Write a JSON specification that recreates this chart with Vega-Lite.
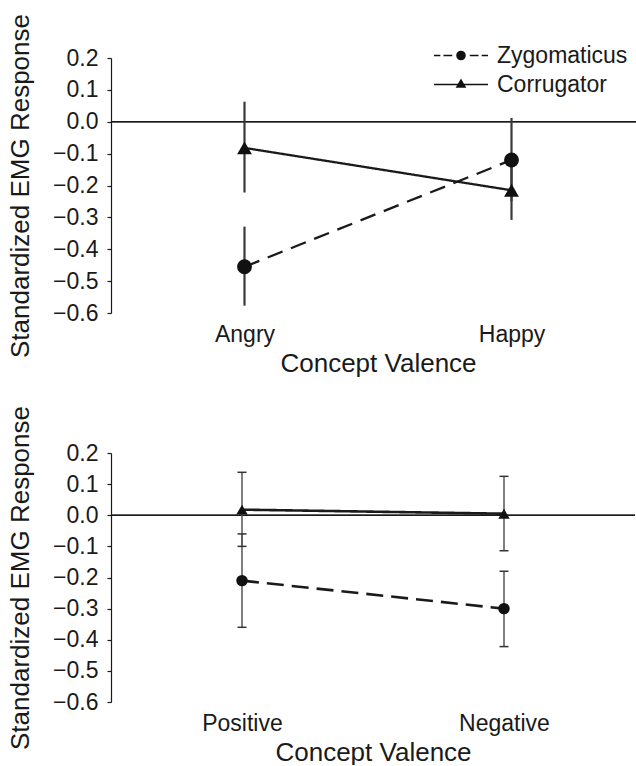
{
  "$schema": "https://vega.github.io/schema/vega-lite/v6.json",
  "background": "white",
  "padding": {"left": 7, "top": 13, "right": 0, "bottom": 0},
  "spacing": 29,
  "config": {
    "font": "Liberation Sans",
    "view": {"stroke": null},
    "axis": {
      "labelFont": "Liberation Sans", "titleFont": "Liberation Sans",
      "labelColor": "#1a1a1a", "titleColor": "#1a1a1a",
      "grid": false, "titleFontWeight": "normal",
      "labelFontSize": 23, "titleFontSize": 26
    },
    "axisY": {
      "domainColor": "#1a1a1a", "tickColor": "#1a1a1a", "tickSize": 4,
      "labelPadding": 9, "domainWidth": 1.2, "tickWidth": 1.2, "titlePadding": 19,
      "labelOverlap": false
    },
    "axisX": {
      "domain": false, "ticks": false, "labelAngle": 0, "labelPadding": 10, "titlePadding": 4
    }
  },
  "datasets": {
    "emg1": [
      {"Valence": "Angry", "Muscle": "Zygomaticus", "mean": -0.455, "lo": -0.577, "hi": -0.329},
      {"Valence": "Happy", "Muscle": "Zygomaticus", "mean": -0.12, "lo": -0.25, "hi": 0.012},
      {"Valence": "Angry", "Muscle": "Corrugator", "mean": -0.082, "lo": -0.222, "hi": 0.063},
      {"Valence": "Happy", "Muscle": "Corrugator", "mean": -0.215, "lo": -0.308, "hi": -0.12}
    ],
    "emg2": [
      {"Valence": "Positive", "Muscle": "Zygomaticus", "mean": -0.21, "lo": -0.36, "hi": -0.06},
      {"Valence": "Negative", "Muscle": "Zygomaticus", "mean": -0.3, "lo": -0.422, "hi": -0.18},
      {"Valence": "Positive", "Muscle": "Corrugator", "mean": 0.018, "lo": -0.1, "hi": 0.138},
      {"Valence": "Negative", "Muscle": "Corrugator", "mean": 0.005, "lo": -0.114, "hi": 0.125}
    ]
  },
  "vconcat": [
    {
      "width": 534,
      "height": 255,
      "data": {"name": "emg1"},
      "layer": [
        {
          "mark": {"type": "rule", "color": "#1a1a1a", "strokeWidth": 1.2},
          "encoding": {
            "y": {"datum": 0, "type": "quantitative", "scale": {"domain": [-0.6, 0.2], "nice": false, "zero": false},
                  "axis": {"values": [-0.6, -0.5, -0.4, -0.3, -0.2, -0.1, 0, 0.1, 0.2], "format": ".1f"},
                  "title": "Standardized EMG Response"}
          }
        },
        {
          "mark": {"type": "rule", "color": "#3a3a3a", "strokeWidth": 2.2},
          "encoding": {
            "x": {"field": "Valence", "type": "nominal", "sort": ["Angry", "Happy"], "scale": {"type": "point", "padding": 0.5}, "title": "Concept Valence"},
            "y": {"field": "lo", "type": "quantitative", "scale": {"domain": [-0.6, 0.2], "nice": false, "zero": false},
                  "axis": {"values": [-0.6, -0.5, -0.4, -0.3, -0.2, -0.1, 0, 0.1, 0.2], "format": ".1f"},
                  "title": "Standardized EMG Response"},
            "y2": {"field": "hi"}
          }
        },
        {
          "mark": {"type": "line", "color": "#1a1a1a", "strokeWidth": 2.3},
          "encoding": {
            "x": {"field": "Valence", "type": "nominal", "sort": ["Angry", "Happy"], "title": "Concept Valence"},
            "y": {"field": "mean", "type": "quantitative", "scale": {"domain": [-0.6, 0.2], "nice": false, "zero": false},
                  "axis": {"values": [-0.6, -0.5, -0.4, -0.3, -0.2, -0.1, 0, 0.1, 0.2], "format": ".1f"},
                  "title": "Standardized EMG Response"},
            "detail": {"field": "Muscle"},
            "strokeDash": {"condition": {"test": "datum.Muscle === 'Zygomaticus'", "value": [16, 9]}, "value": [1, 0]}
          }
        },
        {
          "mark": {"type": "point", "filled": true, "color": "#111111", "opacity": 1, "size": 220},
          "encoding": {
            "x": {"field": "Valence", "type": "nominal", "sort": ["Angry", "Happy"], "title": "Concept Valence"},
            "y": {"field": "mean", "type": "quantitative", "scale": {"domain": [-0.6, 0.2], "nice": false, "zero": false},
                  "axis": {"values": [-0.6, -0.5, -0.4, -0.3, -0.2, -0.1, 0, 0.1, 0.2], "format": ".1f"},
                  "title": "Standardized EMG Response"},
            "shape": {"condition": {"test": "datum.Muscle === 'Zygomaticus'", "value": "circle"}, "value": "triangle-up"}
          }
        },
        {
          "transform": [{"filter": "false"}],
          "mark": {"type": "point", "filled": true, "color": "#111111", "stroke": "#111111", "strokeWidth": 1.5, "opacity": 1},
          "encoding": {
            "shape": {
              "field": "Muscle", "type": "nominal",
              "scale": {
                "domain": ["Zygomaticus", "Corrugator"],
                "range": [
                  "M-1,0H-0.53M-0.3,0H0.35M1.65,0H2.3M2.53,0H3M1.3,0A0.3,0.3,0,1,1,0.7,0A0.3,0.3,0,1,1,1.3,0Z",
                  "M-1,0H3M1,-0.33L1.3,0.18L0.7,0.18Z"
                ]
              },
              "legend": {
                "title": null, "orient": "none", "legendX": 322, "legendY": -17,
                "symbolSize": 729, "labelFontSize": 23, "labelFont": "Liberation Sans",
                "labelColor": "#1a1a1a", "labelOffset": 35, "rowPadding": 2,
                "padding": 0,
                "encode": {
                  "symbols": {
                    "update": {
                      "stroke": {"value": "#111111"},
                      "strokeWidth": {"value": 1.5},
                      "fill": {"value": "#111111"},
                      "opacity": {"value": 1}
                    }
                  }
                }
              }
            }
          }
        }
      ]
    },
    {
      "width": 524,
      "height": 249,
      "data": {"name": "emg2"},
      "layer": [
        {
          "mark": {"type": "rule", "color": "#1a1a1a", "strokeWidth": 1.2},
          "encoding": {
            "y": {"datum": 0, "type": "quantitative", "scale": {"domain": [-0.6, 0.2], "nice": false, "zero": false},
                  "axis": {"values": [-0.6, -0.5, -0.4, -0.3, -0.2, -0.1, 0, 0.1, 0.2], "format": ".1f"},
                  "title": "Standardized EMG Response"}
          }
        },
        {
          "mark": {"type": "rule", "color": "#555555", "strokeWidth": 1.5},
          "encoding": {
            "x": {"field": "Valence", "type": "nominal", "sort": ["Positive", "Negative"], "scale": {"type": "point", "padding": 0.5}, "title": "Concept Valence"},
            "y": {"field": "lo", "type": "quantitative", "scale": {"domain": [-0.6, 0.2], "nice": false, "zero": false},
                  "axis": {"values": [-0.6, -0.5, -0.4, -0.3, -0.2, -0.1, 0, 0.1, 0.2], "format": ".1f"},
                  "title": "Standardized EMG Response"},
            "y2": {"field": "hi"}
          }
        },
        {
          "mark": {"type": "tick", "color": "#333333", "size": 9, "thickness": 1.5, "opacity": 1},
          "encoding": {
            "x": {"field": "Valence", "type": "nominal", "sort": ["Positive", "Negative"], "title": "Concept Valence"},
            "y": {"field": "lo", "type": "quantitative", "scale": {"domain": [-0.6, 0.2], "nice": false, "zero": false},
                  "axis": {"values": [-0.6, -0.5, -0.4, -0.3, -0.2, -0.1, 0, 0.1, 0.2], "format": ".1f"},
                  "title": "Standardized EMG Response"}
          }
        },
        {
          "mark": {"type": "tick", "color": "#333333", "size": 9, "thickness": 1.5, "opacity": 1},
          "encoding": {
            "x": {"field": "Valence", "type": "nominal", "sort": ["Positive", "Negative"], "title": "Concept Valence"},
            "y": {"field": "hi", "type": "quantitative", "scale": {"domain": [-0.6, 0.2], "nice": false, "zero": false},
                  "axis": {"values": [-0.6, -0.5, -0.4, -0.3, -0.2, -0.1, 0, 0.1, 0.2], "format": ".1f"},
                  "title": "Standardized EMG Response"}
          }
        },
        {
          "mark": {"type": "line", "color": "#1a1a1a", "strokeWidth": 2.6},
          "encoding": {
            "x": {"field": "Valence", "type": "nominal", "sort": ["Positive", "Negative"], "title": "Concept Valence"},
            "y": {"field": "mean", "type": "quantitative", "scale": {"domain": [-0.6, 0.2], "nice": false, "zero": false},
                  "axis": {"values": [-0.6, -0.5, -0.4, -0.3, -0.2, -0.1, 0, 0.1, 0.2], "format": ".1f"},
                  "title": "Standardized EMG Response"},
            "detail": {"field": "Muscle"},
            "strokeDash": {"condition": {"test": "datum.Muscle === 'Zygomaticus'", "value": [17, 8]}, "value": [1, 0]}
          }
        },
        {
          "mark": {"type": "point", "filled": true, "color": "#111111", "opacity": 1, "size": 130},
          "encoding": {
            "x": {"field": "Valence", "type": "nominal", "sort": ["Positive", "Negative"], "title": "Concept Valence"},
            "y": {"field": "mean", "type": "quantitative", "scale": {"domain": [-0.6, 0.2], "nice": false, "zero": false},
                  "axis": {"values": [-0.6, -0.5, -0.4, -0.3, -0.2, -0.1, 0, 0.1, 0.2], "format": ".1f"},
                  "title": "Standardized EMG Response"},
            "shape": {"condition": {"test": "datum.Muscle === 'Zygomaticus'", "value": "circle"}, "value": "triangle-up"}
          }
        }
      ]
    }
  ]
}
